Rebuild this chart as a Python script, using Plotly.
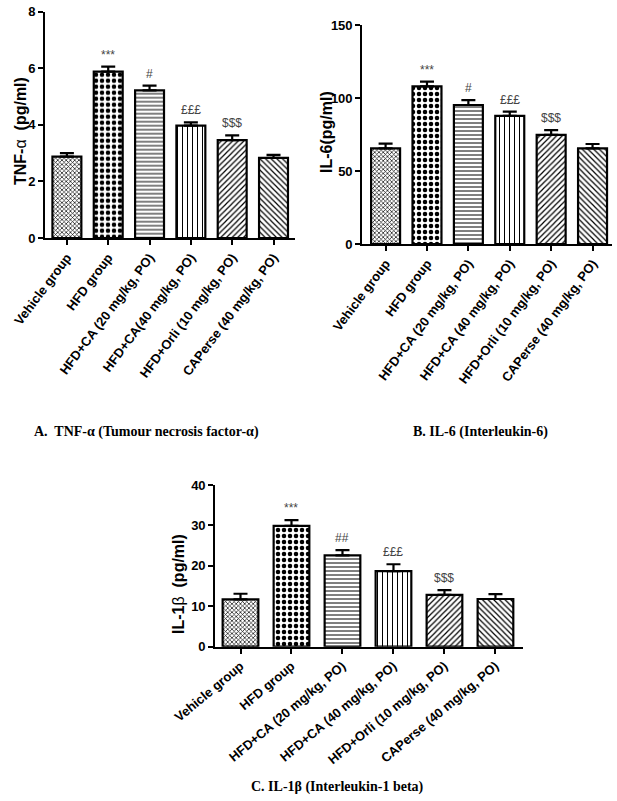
import plotly.graph_objects as go

W, H = 617, 801

groups = ["Vehicle group", "HFD group", "HFD+CA (20 mg/kg, PO)",
          "HFD+CA(40 mg/kg, PO)", "HFD+Orli (10 mg/kg, PO)", "CAPerse (40 mg/kg, PO)"]
groups_b = ["Vehicle group", "HFD group", "HFD+CA (20 mg/kg, PO)",
            "HFD+CA (40 mg/kg, PO)", "HFD+Orli (10 mg/kg, PO)", "CAPerse (40 mg/kg, PO)"]

tnf_mean = [2.88, 5.88, 5.22, 3.97, 3.46, 2.83]
tnf_sem = [0.12, 0.18, 0.17, 0.12, 0.17, 0.11]
il6_mean = [65.5, 108.0, 95.2, 87.7, 74.7, 65.5]
il6_sem = [3.2, 3.2, 3.3, 3.0, 3.3, 3.0]
il1b_mean = [11.7, 29.9, 22.6, 18.7, 12.8, 11.8]
il1b_sem = [1.4, 1.4, 1.3, 1.7, 1.2, 1.2]

sig_tnf = ["", "***", "#", "£££", "&#36;&#36;&#36;", ""]
sig_il6 = ["", "***", "#", "£££", "&#36;&#36;&#36;", ""]
sig_il1b = ["", "***", "##", "£££", "&#36;&#36;&#36;", ""]

shapes = ["x", ".", "-", "|", "/", "\\"]
sizes = [3, 6, 4, 5, 4, 4]
solid = [0.4, 0.45, 0.25, 0.2, 0.3, 0.3]

def px_x(p):
    return p / W

def px_y(p):
    return 1 - p / H

fig = go.Figure()

panels = [
    ("x", "y", groups, tnf_mean, tnf_sem, sig_tnf),
    ("x2", "y2", groups_b, il6_mean, il6_sem, sig_il6),
    ("x3", "y3", groups_b, il1b_mean, il1b_sem, sig_il1b),
]

for xa, ya, cats, m, e, sig in panels:
    fig.add_trace(go.Bar(
        x=cats, y=m, xaxis=xa, yaxis=ya, width=0.7,
        marker=dict(color="white", line=dict(color="black", width=2.2),
                    pattern=dict(shape=shapes, size=sizes, solidity=solid,
                                 fgcolor="black", bgcolor="white", fillmode="replace")),
        error_y=dict(type="data", symmetric=False, array=e, arrayminus=[0]*len(e),
                     color="black", thickness=2.2, width=7),
        showlegend=False, hoverinfo="skip",
    ))
    for c, v, s, t in zip(cats, m, e, sig):
        if t:
            fig.add_annotation(x=c, y=v + s, xref=xa, yref=ya, text=t, showarrow=False,
                               yanchor="bottom", yshift=3,
                               font=dict(family="Liberation Sans", size=12, color="#444444"))

axis_common = dict(showline=True, linecolor="black", linewidth=1.6, ticks="outside",
                   ticklen=5, tickwidth=1.5, tickcolor="black", showgrid=False,
                   zeroline=False, automargin=False)
xfont = dict(family="Liberation Sans", size=13, color="black", weight="bold")
yfont = dict(family="Liberation Sans", size=13, color="black", weight="bold")

fig.update_layout(
    width=W, height=H, margin=dict(l=0, r=0, t=0, b=0, autoexpand=False),
    paper_bgcolor="white", plot_bgcolor="white", bargap=0.3,
    xaxis=dict(domain=[px_x(45), px_x(295)], anchor="y", range=[-0.53, 5.52],
               tickangle=-53, tickfont=xfont, **axis_common),
    yaxis=dict(domain=[px_y(238), px_y(11.7)], anchor="x", range=[0, 8],
               tickvals=[0, 2, 4, 6, 8], tickfont=yfont, **axis_common),
    xaxis2=dict(domain=[px_x(362), px_x(612)], anchor="y2", range=[-0.57, 5.47],
                tickangle=-53, tickfont=xfont, **axis_common),
    yaxis2=dict(domain=[px_y(244), px_y(25)], anchor="x2", range=[0, 150],
                tickvals=[0, 50, 100, 150], tickfont=yfont, **axis_common),
    xaxis3=dict(domain=[px_x(215), px_x(523)], anchor="y3", range=[-0.5, 5.54],
                tickangle=-40, tickfont=xfont, **axis_common),
    yaxis3=dict(domain=[px_y(646.7), px_y(485)], anchor="x3", range=[0, 40],
                tickvals=[0, 10, 20, 30, 40], tickfont=yfont, **axis_common),
)

ytitles = [
    ("<b>TNF-</b>α<b>  (pg/ml)</b>", 21, 131),
    ("<b>IL-6(pg/ml)</b>", 327, 132),
    ("<b>IL-1</b>β<b>  (pg/ml)</b>", 178, 584),
]
for t, x, y in ytitles:
    fig.add_annotation(x=px_x(x), y=px_y(y), xref="paper", yref="paper", text=t,
                       textangle=-90, showarrow=False, xanchor="center", yanchor="middle",
                       font=dict(family="Liberation Sans", size=16, color="black"))

captions = [
    ("<b>A.  TNF-α (Tumour necrosis factor-α)</b>", 146, 432),
    ("<b>B. IL-6 (Interleukin-6)</b>", 480, 432),
    ("<b>C. IL-1β (Interleukin-1 beta)</b>", 337, 787),
]
for t, x, y in captions:
    fig.add_annotation(x=px_x(x), y=px_y(y), xref="paper", yref="paper", text=t,
                       showarrow=False, xanchor="center", yanchor="middle",
                       font=dict(family="Liberation Serif", size=14, color="black"))

fig.write_html("out.html")
